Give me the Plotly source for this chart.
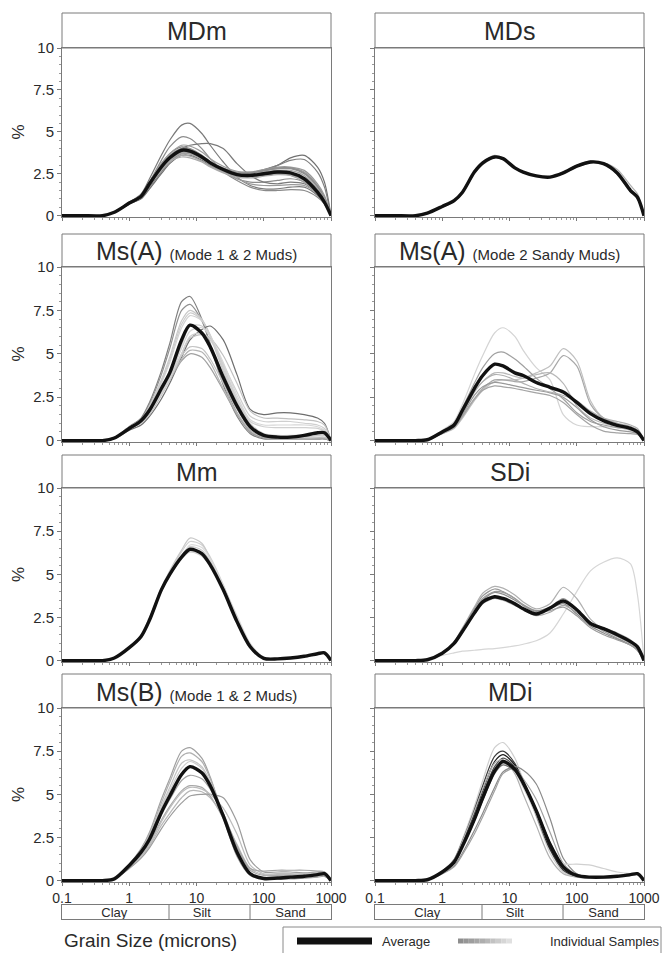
import plotly.graph_objects as go

# ---------------- DATA ----------------
GRAIN = [0.1, 0.2, 0.4, 0.6, 1, 1.5, 2, 3, 4, 6, 8, 12, 16, 25, 40, 63, 100, 160, 250, 400, 630, 800, 1000]
XTICK_VALS = [0.1, 1, 10, 100, 1000]
XTICK_LABELS = ["0.1", "1", "10", "100", "1000"]
CLASS_NAMES = ["Clay", "Silt", "Sand"]
CLASS_BOUNDS = [3.9, 62.5]
CLASS_LABEL_POS = [0.6, 12, 250]

TITLES = ["MDm", "MDs", "Ms(A)", "Ms(A)", "Mm", "SDi", "Ms(B)", "MDi"]
SUBTITLES = ["", "", "(Mode 1 & 2 Muds)", "(Mode 2 Sandy Muds)", "", "", "(Mode 1 & 2 Muds)", ""]

MDM_AVG = [0, 0, 0, 0.2, 0.75, 1.15, 1.9, 2.9, 3.45, 3.9, 3.85, 3.5, 3.15, 2.75, 2.45, 2.4, 2.5, 2.6, 2.55, 2.2, 1.4, 0.8, 0]
MDM_SAMPLES = [
    [0, 0, 0, 0.2, 0.8, 1.3, 2.2, 3.6, 4.5, 5.4, 5.5, 4.9, 4.2, 3.2, 2.3, 1.8, 1.6, 1.6, 1.7, 1.7, 1.2, 0.7, 0],
    [0, 0, 0, 0.2, 0.8, 1.2, 2.0, 3.3, 4.1, 4.7, 4.6, 4.0, 3.4, 2.7, 2.2, 2.0, 2.0, 2.1, 2.2, 2.0, 1.3, 0.8, 0],
    [0, 0, 0, 0.2, 0.7, 1.1, 1.8, 2.8, 3.4, 4.0, 4.2, 4.3, 4.3, 4.0, 3.1, 2.4, 2.0, 1.9, 2.0, 1.9, 1.3, 0.8, 0],
    [0, 0, 0, 0.2, 0.7, 1.0, 1.6, 2.5, 3.1, 3.6, 3.6, 3.3, 3.0, 2.6, 2.4, 2.45, 2.7, 3.0, 3.45, 3.6, 2.9, 2.0, 0],
    [0, 0, 0, 0.2, 0.7, 1.05, 1.7, 2.6, 3.2, 3.7, 3.7, 3.4, 3.05, 2.7, 2.5, 2.5, 2.75, 3.0, 3.3, 3.35, 2.6, 1.7, 0],
    [0, 0, 0, 0.2, 0.8, 1.2, 2.0, 3.1, 3.7, 4.1, 4.0, 3.6, 3.2, 2.6, 2.1, 1.7, 1.5, 1.5, 1.55, 1.5, 1.1, 0.7, 0],
    [0, 0, 0, 0.2, 0.75, 1.15, 1.9, 3.0, 3.6, 4.0, 3.9, 3.5, 3.1, 2.6, 2.2, 1.9, 1.8, 1.8, 1.85, 1.8, 1.3, 0.8, 0],
    [0, 0, 0, 0.2, 0.75, 1.2, 2.0, 3.1, 3.7, 4.2, 4.15, 3.8, 3.4, 2.95, 2.65, 2.6, 2.7, 2.8, 2.85, 2.6, 1.8, 1.1, 0],
    [0, 0, 0, 0.2, 0.7, 1.1, 1.8, 2.7, 3.2, 3.6, 3.55, 3.25, 2.95, 2.6, 2.35, 2.3, 2.4, 2.5, 2.45, 2.1, 1.35, 0.8, 0],
    [0, 0, 0, 0.2, 0.75, 1.15, 1.9, 2.85, 3.4, 3.8, 3.75, 3.45, 3.1, 2.7, 2.5, 2.5, 2.65, 2.8, 2.8, 2.5, 1.7, 1.0, 0],
    [0, 0, 0, 0.2, 0.7, 1.1, 1.85, 2.8, 3.3, 3.7, 3.7, 3.4, 3.05, 2.65, 2.4, 2.35, 2.45, 2.5, 2.4, 2.0, 1.3, 0.8, 0],
    [0, 0, 0, 0.2, 0.8, 1.2, 1.95, 3.0, 3.55, 4.0, 3.95, 3.6, 3.25, 2.85, 2.6, 2.6, 2.75, 2.9, 2.9, 2.7, 1.9, 1.2, 0],
    [0, 0, 0, 0.2, 0.7, 1.1, 1.8, 2.75, 3.25, 3.5, 3.45, 3.2, 2.9, 2.55, 2.3, 2.25, 2.35, 2.45, 2.4, 2.1, 1.35, 0.8, 0],
    [0, 0, 0, 0.2, 0.75, 1.15, 1.9, 2.95, 3.5, 3.95, 3.9, 3.55, 3.2, 2.8, 2.55, 2.55, 2.7, 2.85, 2.85, 2.55, 1.75, 1.05, 0],
    [0, 0, 0, 0.2, 0.72, 1.12, 1.85, 2.8, 3.35, 3.75, 3.7, 3.4, 3.05, 2.7, 2.45, 2.45, 2.6, 2.7, 2.7, 2.4, 1.6, 1.0, 0],
]
MDM_COLORS = ["#7a7a7a", "#8c8c8c", "#7a7a7a", "#707070", "#808080", "#8a8a8a", "#9a9a9a",
              "#9e9e9e", "#a8a8a8", "#929292", "#a0a0a0", "#999999", "#aaaaaa", "#8e8e8e", "#a4a4a4"]

MDS_AVG = [0, 0, 0, 0.15, 0.55, 0.9, 1.4, 2.6, 3.15, 3.5, 3.4, 2.85, 2.6, 2.37, 2.3, 2.55, 2.95, 3.2, 3.1, 2.55, 1.5, 1.1, 0]
MDS_SAMPLES = [
    [0, 0, 0, 0.15, 0.55, 0.9, 1.45, 2.65, 3.2, 3.6, 3.45, 2.9, 2.6, 2.35, 2.3, 2.5, 2.9, 3.15, 3.15, 2.75, 1.8, 1.3, 0],
    [0, 0, 0, 0.15, 0.5, 0.85, 1.35, 2.5, 3.05, 3.45, 3.35, 2.85, 2.62, 2.4, 2.32, 2.6, 3.0, 3.25, 3.1, 2.45, 1.4, 1.0, 0],
]
MDS_COLORS = ["#b0b0b0", "#999999"]

MSA12_AVG = [0, 0, 0, 0.15, 0.7, 1.15, 1.75, 3.0, 3.9, 5.8, 6.65, 6.2, 5.4, 3.65, 2.0, 0.8, 0.3, 0.2, 0.2, 0.3, 0.45, 0.45, 0]
MSA12_SAMPLES = [
    [0, 0, 0, 0.15, 0.8, 1.3, 2.2, 4.0, 5.6, 8.0, 8.3, 7.0, 5.5, 3.2, 1.4, 0.4, 0.1, 0.1, 0.1, 0.1, 0.1, 0.1, 0],
    [0, 0, 0, 0.15, 0.8, 1.25, 2.1, 3.8, 5.3, 7.5, 7.85, 6.9, 5.6, 3.4, 1.6, 0.5, 0.15, 0.1, 0.1, 0.1, 0.1, 0.1, 0],
    [0, 0, 0, 0.15, 0.8, 1.2, 2.0, 3.5, 4.8, 6.9, 7.5, 7.0, 6.0, 4.0, 2.1, 0.8, 0.3, 0.2, 0.2, 0.2, 0.3, 0.3, 0],
    [0, 0, 0, 0.15, 0.75, 1.15, 1.9, 3.3, 4.5, 6.5, 7.2, 6.9, 6.1, 4.3, 2.4, 1.0, 0.4, 0.3, 0.3, 0.35, 0.4, 0.4, 0],
    [0, 0, 0, 0.15, 0.78, 1.18, 1.95, 3.4, 4.65, 6.7, 7.35, 6.95, 6.05, 4.15, 2.25, 0.9, 0.35, 0.25, 0.25, 0.3, 0.35, 0.35, 0],
    [0, 0, 0, 0.1, 0.6, 0.9, 1.4, 2.4, 3.3, 4.8, 5.8, 6.4, 6.6, 5.8, 3.8, 1.8, 1.5, 1.6, 1.6, 1.5, 1.3, 1.0, 0],
    [0, 0, 0, 0.1, 0.65, 1.0, 1.5, 2.6, 3.5, 5.0, 5.9, 6.1, 5.9, 4.9, 3.3, 1.7, 1.3, 1.3, 1.25, 1.2, 1.1, 0.9, 0],
    [0, 0, 0, 0.15, 0.75, 1.1, 1.7, 2.8, 3.5, 4.6, 5.0, 4.8, 4.2, 2.9, 1.5, 0.5, 0.15, 0.1, 0.1, 0.1, 0.1, 0.1, 0],
    [0, 0, 0, 0.15, 0.75, 1.15, 1.75, 2.9, 3.7, 4.9, 5.4, 5.3, 4.7, 3.3, 1.8, 0.7, 0.3, 0.2, 0.2, 0.2, 0.2, 0.2, 0],
    [0, 0, 0, 0.15, 0.7, 1.1, 1.7, 2.8, 3.6, 4.7, 5.2, 5.1, 4.5, 3.0, 1.6, 0.6, 0.2, 0.1, 0.1, 0.1, 0.15, 0.15, 0],
    [0, 0, 0, 0.1, 0.7, 1.05, 1.6, 2.7, 3.5, 5.0, 6.0, 6.2, 5.8, 4.4, 2.8, 1.4, 1.1, 1.1, 1.1, 1.0, 0.9, 0.7, 0],
    [0, 0, 0, 0.1, 0.7, 1.0, 1.6, 2.7, 3.6, 5.3, 6.3, 6.5, 6.0, 4.5, 2.6, 1.2, 0.9, 0.9, 0.9, 0.9, 0.8, 0.6, 0],
    [0, 0, 0, 0.12, 0.72, 1.05, 1.65, 2.8, 3.7, 5.5, 6.6, 6.6, 6.0, 4.3, 2.4, 1.1, 0.8, 0.75, 0.75, 0.75, 0.7, 0.55, 0],
]
MSA12_COLORS = ["#808080", "#909090", "#c8c8c8", "#d2d2d2", "#cccccc", "#6e6e6e", "#c0c0c0",
                "#a0a0a0", "#c4c4c4", "#b4b4b4", "#cfcfcf", "#d6d6d6", "#d0d0d0"]

MSA2_AVG = [0, 0, 0, 0.05, 0.5, 0.9, 1.75, 3.0, 3.75, 4.4, 4.3, 3.9, 3.75, 3.35, 3.07, 2.8, 2.2, 1.55, 1.15, 0.88, 0.7, 0.5, 0]
MSA2_SAMPLES = [
    [0, 0, 0, 0.05, 0.6, 1.1, 2.1, 3.8, 4.9, 6.2, 6.5, 6.0, 5.2, 4.2, 3.5, 1.5, 0.9, 0.8, 0.8, 0.75, 0.6, 0.45, 0],
    [0, 0, 0, 0.05, 0.4, 0.7, 1.3, 2.3, 2.9, 3.4, 3.5, 3.5, 3.6, 3.9, 4.3, 5.3, 4.6, 2.3, 1.3, 1.0, 0.8, 0.6, 0],
    [0, 0, 0, 0.05, 0.4, 0.75, 1.4, 2.4, 3.0, 3.5, 3.5, 3.4, 3.4, 3.6, 3.9, 4.9, 4.3, 2.1, 1.3, 1.0, 0.8, 0.6, 0],
    [0, 0, 0, 0.05, 0.55, 1.0, 1.9, 3.3, 4.2, 5.0, 5.1, 4.7, 4.3, 3.6, 3.0, 2.4, 1.6, 1.1, 0.9, 0.75, 0.65, 0.5, 0],
    [0, 0, 0, 0.05, 0.5, 0.85, 1.6, 2.8, 3.4, 3.9, 3.9, 3.7, 3.6, 3.8, 3.9, 3.3, 2.0, 1.3, 1.0, 0.8, 0.6, 0.5, 0],
    [0, 0, 0, 0.05, 0.45, 0.8, 1.4, 2.4, 2.9, 3.15, 3.1, 3.0, 2.9, 2.75, 2.6, 2.2, 1.5, 0.9, 0.55, 0.45, 0.4, 0.35, 0],
    [0, 0, 0, 0.05, 0.45, 0.8, 1.5, 2.6, 3.1, 3.35, 3.3, 3.15, 3.05, 2.9, 2.75, 2.5, 1.9, 1.2, 0.8, 0.6, 0.5, 0.4, 0],
    [0, 0, 0, 0.05, 0.5, 0.9, 1.6, 2.8, 3.4, 3.8, 3.75, 3.5, 3.3, 3.0, 2.8, 2.6, 2.3, 1.7, 1.3, 1.1, 0.9, 0.7, 0],
]
MSA2_COLORS = ["#d4d4d4", "#c0c0c0", "#a8a8a8", "#a0a0a0", "#b8b8b8", "#a4a4a4", "#9a9a9a", "#b0b0b0"]

MM_AVG = [0, 0, 0, 0.15, 0.75, 1.4, 2.35, 4.1, 5.0, 6.0, 6.45, 6.2, 5.55, 4.1, 2.26, 0.8, 0.13, 0.1, 0.15, 0.25, 0.4, 0.45, 0]
MM_SAMPLES = [
    [0, 0, 0, 0.15, 0.7, 1.35, 2.3, 4.1, 5.1, 6.3, 6.9, 6.7, 6.0, 4.4, 2.4, 0.8, 0.15, 0.1, 0.15, 0.2, 0.35, 0.4, 0],
    [0, 0, 0, 0.15, 0.75, 1.4, 2.4, 4.2, 5.2, 6.4, 7.1, 6.8, 5.9, 4.2, 2.2, 0.7, 0.1, 0.1, 0.15, 0.25, 0.4, 0.45, 0],
    [0, 0, 0, 0.15, 0.8, 1.5, 2.5, 4.2, 5.1, 6.0, 6.3, 6.05, 5.5, 4.3, 2.6, 1.0, 0.2, 0.1, 0.15, 0.25, 0.4, 0.45, 0],
    [0, 0, 0, 0.15, 0.7, 1.3, 2.25, 4.0, 4.9, 5.9, 6.3, 6.1, 5.6, 4.3, 2.5, 0.9, 0.2, 0.1, 0.15, 0.25, 0.4, 0.45, 0],
    [0, 0, 0, 0.15, 0.75, 1.45, 2.45, 4.15, 5.05, 6.1, 6.6, 6.4, 5.75, 4.25, 2.35, 0.85, 0.15, 0.1, 0.15, 0.25, 0.4, 0.45, 0],
    [0, 0, 0, 0.15, 0.72, 1.38, 2.35, 4.05, 5.0, 6.05, 6.7, 6.55, 5.9, 4.35, 2.45, 0.9, 0.18, 0.1, 0.15, 0.25, 0.4, 0.45, 0],
]
MM_COLORS = ["#d0d0d0", "#c8c8c8", "#d8d8d8", "#d4d4d4", "#cccccc", "#dadada"]

SDI_AVG = [0, 0, 0, 0.05, 0.43, 1.0, 1.7, 2.75, 3.4, 3.7, 3.6, 3.3, 3.0, 2.7, 3.05, 3.45, 2.95, 2.15, 1.85, 1.5, 1.1, 0.8, 0]
SDI_SAMPLES = [
    [0, 0, 0, 0.05, 0.3, 0.45, 0.55, 0.6, 0.65, 0.7, 0.75, 0.85, 0.95, 1.15, 1.6, 2.7, 4.0, 5.2, 5.7, 5.95, 5.6, 3.8, 0],
    [0, 0, 0, 0.05, 0.45, 1.1, 1.9, 3.1, 3.9, 4.3, 4.2, 3.8, 3.4, 3.0, 3.3, 4.25, 3.6, 2.4, 1.8, 1.4, 1.0, 0.7, 0],
    [0, 0, 0, 0.05, 0.45, 1.05, 1.85, 3.0, 3.75, 4.15, 4.0, 3.6, 3.25, 2.9, 3.1, 3.6, 3.0, 2.2, 1.7, 1.3, 0.9, 0.6, 0],
    [0, 0, 0, 0.05, 0.42, 1.0, 1.75, 2.85, 3.5, 3.95, 3.85, 3.5, 3.2, 2.85, 3.0, 3.3, 2.7, 2.0, 1.6, 1.25, 0.9, 0.6, 0],
    [0, 0, 0, 0.05, 0.4, 0.95, 1.65, 2.7, 3.3, 3.6, 3.5, 3.2, 2.95, 2.6, 2.8, 3.2, 2.8, 2.2, 1.9, 1.6, 1.2, 0.8, 0],
    [0, 0, 0, 0.05, 0.45, 1.05, 1.8, 2.9, 3.6, 4.0, 3.95, 3.6, 3.2, 2.8, 2.9, 3.1, 2.6, 1.9, 1.5, 1.2, 0.9, 0.6, 0],
]
SDI_COLORS = ["#d6d6d6", "#b0b0b0", "#999999", "#8c8c8c", "#a8a8a8", "#9c9c9c"]

MSB_AVG = [0, 0, 0, 0.1, 0.88, 1.65, 2.4, 3.95, 4.9, 6.15, 6.6, 6.25, 5.5, 3.75, 1.65, 0.4, 0.12, 0.15, 0.2, 0.25, 0.35, 0.4, 0]
MSB_SAMPLES = [
    [0, 0, 0, 0.1, 0.95, 1.85, 2.8, 4.7, 5.9, 7.5, 7.7, 7.1, 6.0, 3.7, 1.4, 0.3, 0.1, 0.1, 0.1, 0.15, 0.2, 0.25, 0],
    [0, 0, 0, 0.1, 0.9, 1.8, 2.7, 4.5, 5.7, 7.2, 7.4, 6.9, 5.9, 3.8, 1.5, 0.35, 0.1, 0.1, 0.15, 0.2, 0.25, 0.3, 0],
    [0, 0, 0, 0.1, 0.9, 1.75, 2.6, 4.3, 5.4, 6.8, 7.0, 6.6, 5.7, 3.8, 1.6, 0.4, 0.15, 0.15, 0.2, 0.2, 0.3, 0.35, 0],
    [0, 0, 0, 0.1, 0.8, 1.5, 2.2, 3.5, 4.3, 5.2, 5.5, 5.4, 4.9, 3.6, 1.9, 0.6, 0.3, 0.3, 0.3, 0.3, 0.35, 0.4, 0],
    [0, 0, 0, 0.1, 0.75, 1.4, 2.0, 3.2, 3.9, 4.8, 5.2, 5.15, 4.8, 3.7, 2.1, 0.7, 0.35, 0.35, 0.35, 0.35, 0.4, 0.45, 0],
    [0, 0, 0, 0.1, 0.7, 1.3, 1.9, 3.0, 3.7, 4.5, 4.9, 5.0, 5.0, 4.8, 3.4, 1.2, 0.5, 0.5, 0.5, 0.45, 0.5, 0.5, 0],
    [0, 0, 0, 0.1, 0.8, 1.45, 2.1, 3.4, 4.2, 5.1, 5.4, 5.3, 5.0, 4.2, 2.7, 0.9, 0.4, 0.4, 0.4, 0.4, 0.45, 0.5, 0],
    [0, 0, 0, 0.1, 0.85, 1.6, 2.3, 3.8, 4.7, 5.8, 6.1, 5.9, 5.3, 3.9, 2.0, 0.7, 0.55, 0.6, 0.6, 0.6, 0.55, 0.5, 0],
    [0, 0, 0, 0.1, 0.9, 1.7, 2.5, 4.2, 5.2, 6.5, 6.9, 6.5, 5.6, 3.6, 1.5, 0.35, 0.12, 0.12, 0.15, 0.2, 0.3, 0.35, 0],
]
MSB_COLORS = ["#a0a0a0", "#b0b0b0", "#c4c4c4", "#a8a8a8", "#b8b8b8", "#9c9c9c", "#bcbcbc", "#a4a4a4", "#cccccc"]

MDI_AVG = [0, 0, 0, 0.05, 0.5, 1.07, 2.0, 3.55, 4.8, 6.35, 6.9, 6.45, 5.65, 4.05, 2.1, 0.8, 0.3, 0.2, 0.2, 0.25, 0.35, 0.4, 0]
MDI_SAMPLES = [
    [0, 0, 0, 0.05, 0.55, 1.25, 2.4, 4.3, 5.8, 7.7, 8.0, 7.1, 5.8, 3.7, 1.6, 0.5, 0.2, 0.15, 0.15, 0.2, 0.3, 0.35, 0],
    [0, 0, 0, 0.05, 0.55, 1.2, 2.3, 4.1, 5.5, 7.2, 7.5, 6.8, 5.7, 3.8, 1.8, 0.6, 0.25, 0.2, 0.2, 0.25, 0.35, 0.4, 0],
    [0, 0, 0, 0.05, 0.5, 1.15, 2.2, 3.9, 5.2, 6.9, 7.3, 6.7, 5.7, 3.9, 1.9, 0.7, 0.3, 0.2, 0.2, 0.25, 0.35, 0.4, 0],
    [0, 0, 0, 0.05, 0.5, 1.1, 2.1, 3.7, 5.0, 6.6, 7.1, 6.6, 5.8, 4.1, 2.2, 0.8, 0.3, 0.2, 0.2, 0.25, 0.35, 0.4, 0],
    [0, 0, 0, 0.05, 0.4, 0.85, 1.6, 2.9, 3.9, 5.4, 6.3, 6.6, 6.4, 5.6, 3.6, 1.3, 0.4, 0.2, 0.2, 0.25, 0.35, 0.4, 0],
    [0, 0, 0, 0.05, 0.4, 0.8, 1.5, 2.7, 3.7, 5.2, 6.2, 6.5, 5.9, 4.7, 2.8, 1.0, 0.35, 0.2, 0.2, 0.25, 0.35, 0.4, 0],
    [0, 0, 0, 0.05, 0.55, 1.2, 2.3, 4.0, 5.3, 6.8, 7.0, 6.2, 5.0, 3.2, 1.3, 0.4, 0.2, 0.15, 0.15, 0.2, 0.3, 0.35, 0],
    [0, 0, 0, 0.05, 0.5, 1.1, 2.0, 3.6, 4.8, 6.3, 6.8, 6.3, 5.4, 3.8, 2.0, 1.0, 0.95, 0.9, 0.7, 0.5, 0.4, 0.4, 0],
    [0, 0, 0, 0.05, 0.48, 1.05, 1.95, 3.45, 4.65, 6.2, 6.7, 6.35, 5.6, 4.1, 2.2, 0.85, 0.3, 0.2, 0.2, 0.25, 0.35, 0.4, 0],
]
MDI_COLORS = ["#cfcfcf", "#3a3a3a", "#1a1a1a", "#505050", "#8a8a8a", "#a0a0a0", "#b0b0b0", "#d0d0d0", "#707070"]

PANELS = [
    (MDM_AVG, MDM_SAMPLES, MDM_COLORS),
    (MDS_AVG, MDS_SAMPLES, MDS_COLORS),
    (MSA12_AVG, MSA12_SAMPLES, MSA12_COLORS),
    (MSA2_AVG, MSA2_SAMPLES, MSA2_COLORS),
    (MM_AVG, MM_SAMPLES, MM_COLORS),
    (SDI_AVG, SDI_SAMPLES, SDI_COLORS),
    (MSB_AVG, MSB_SAMPLES, MSB_COLORS),
    (MDI_AVG, MDI_SAMPLES, MDI_COLORS),
]

# ---------------- LAYOUT ----------------
W, H = 663, 953
FONT = "Liberation Sans, Arial, sans-serif"
TXT = "#2a2a2a"
AXC = "#7a7a7a"
COLS = [(62, 331), (375, 644)]
ROWS = [(13, 48, 217), (234, 267, 442), (455, 488, 662), (674, 708, 882)]
STRIP = (905, 919)


def fx(p):
    return p / W


def fy(p):
    return 1 - p / H


fig = go.Figure()
layout = {}
shapes = []
annotations = []

for i, (avg, samples, colors) in enumerate(PANELS):
    r, c = divmod(i, 2)
    n = i + 1
    sfx = "" if n == 1 else str(n)
    xa, ya = "x" + sfx, "y" + sfx
    for vals, col in zip(samples, colors):
        fig.add_trace(go.Scatter(x=GRAIN, y=vals, mode="lines", xaxis=xa, yaxis=ya,
                                 line=dict(color=col, width=1.2, shape="spline", smoothing=0.8),
                                 hoverinfo="skip", showlegend=False))
    fig.add_trace(go.Scatter(x=GRAIN, y=avg, mode="lines", xaxis=xa, yaxis=ya,
                             line=dict(color="#111111", width=3.4, shape="spline", smoothing=0.8),
                             showlegend=False))
    x0, x1 = COLS[c]
    ttop, ptop, pbot = ROWS[r]
    layout["xaxis" + sfx] = dict(
        domain=[fx(x0), fx(x1)], anchor=ya, type="log", range=[-1, 3], automargin=False,
        showline=True, mirror=True, linecolor=AXC, linewidth=1,
        ticks="outside", ticklen=3, tickcolor=AXC,
        tickmode="array", tickvals=XTICK_VALS, ticktext=XTICK_LABELS,
        showticklabels=(r == 3), tickfont=dict(family=FONT, size=14, color=TXT),
        showgrid=False, zeroline=False,
        minor=dict(ticks="outside", ticklen=2, dtick="D1", tickcolor="#999999", showgrid=False),
    )
    layout["yaxis" + sfx] = dict(
        domain=[fy(pbot), fy(ptop)], anchor=xa, range=[-0.08, 10], automargin=False,
        showline=True, mirror=True, linecolor=AXC, linewidth=1,
        ticks="outside", ticklen=4, tickcolor=AXC, tickmode="linear", tick0=0, dtick=2.5,
        showticklabels=(c == 0), tickfont=dict(family=FONT, size=15, color=TXT),
        showgrid=False, zeroline=False,
        minor=dict(ticks="outside", ticklen=2, dtick=0.5, tickcolor="#999999", showgrid=False),
    )
    # title box
    shapes.append(dict(type="rect", xref="paper", yref="paper", x0=fx(x0), x1=fx(x1),
                       y0=fy(ptop), y1=fy(ttop), line=dict(color=AXC, width=1)))
    text = TITLES[i]
    if SUBTITLES[i]:
        text += " <span style='font-size:15px'>" + SUBTITLES[i] + "</span>"
    annotations.append(dict(xref="paper", yref="paper", x=fx((x0 + x1) / 2), y=fy((ttop + ptop) / 2 + 1),
                            text=text, showarrow=False, xanchor="center", yanchor="middle",
                            font=dict(family=FONT, size=25, color=TXT)))
    if c == 0:
        annotations.append(dict(xref="paper", yref="paper", x=fx(18), y=fy((ptop + pbot) / 2),
                                text="%", textangle=-90, showarrow=False, xanchor="center",
                                yanchor="middle", font=dict(family=FONT, size=17, color=TXT)))

# grain-class strips
for k, c in enumerate([0, 1]):
    n = 9 + k
    xa, ya = "x%d" % n, "y%d" % n
    x0, x1 = COLS[c]
    layout["xaxis%d" % n] = dict(domain=[fx(x0), fx(x1)], anchor=ya, type="log", range=[-1, 3],
                                 automargin=False,
                                 showline=True, mirror=True, linecolor=AXC, linewidth=1,
                                 ticks="", showticklabels=False, showgrid=False, zeroline=False)
    layout["yaxis%d" % n] = dict(domain=[fy(STRIP[1]), fy(STRIP[0])], anchor=xa, range=[0, 1],
                                 automargin=False,
                                 showline=True, mirror=True, linecolor=AXC, linewidth=1,
                                 ticks="", showticklabels=False, showgrid=False, zeroline=False)
    for b in CLASS_BOUNDS:
        fig.add_trace(go.Scatter(x=[b, b], y=[0, 1], mode="lines", xaxis=xa, yaxis=ya,
                                 line=dict(color=AXC, width=1), hoverinfo="skip", showlegend=False))
    fig.add_trace(go.Scatter(x=CLASS_LABEL_POS, y=[0.4] * 3, mode="text", text=CLASS_NAMES,
                             xaxis=xa, yaxis=ya, textfont=dict(family=FONT, size=13, color=TXT),
                             hoverinfo="skip", showlegend=False))

# x axis label
annotations.append(dict(xref="paper", yref="paper", x=fx(62), y=fy(940), text="Grain Size (microns)",
                        showarrow=False, xanchor="left", yanchor="middle",
                        font=dict(family=FONT, size=19, color=TXT)))

# legend box
shapes.append(dict(type="rect", xref="paper", yref="paper", x0=fx(283), x1=fx(661),
                   y0=-0.01, y1=fy(927), line=dict(color="#8a8a8a", width=1)))
shapes.append(dict(type="line", xref="paper", yref="paper", x0=fx(297), x1=fx(372),
                   y0=fy(941), y1=fy(941), line=dict(color="#111111", width=7)))
annotations.append(dict(xref="paper", yref="paper", x=fx(380), y=fy(941), text="Average",
                        showarrow=False, xanchor="left", yanchor="middle",
                        font=dict(family=FONT, size=13, color=TXT)))
grad = ["#8e8e8e", "#969696", "#9e9e9e", "#a6a6a6", "#aeaeae", "#b8b8b8", "#c2c2c2", "#cccccc", "#d6d6d6", "#e0e0e0"]
seg = (512 - 458) / len(grad)
for j, gcol in enumerate(grad):
    shapes.append(dict(type="line", xref="paper", yref="paper", x0=fx(458 + j * seg), x1=fx(458 + (j + 1) * seg),
                       y0=fy(941), y1=fy(941), line=dict(color=gcol, width=5)))
annotations.append(dict(xref="paper", yref="paper", x=fx(548), y=fy(941), text="Individual Samples",
                        showarrow=False, xanchor="left", yanchor="middle",
                        font=dict(family=FONT, size=13, color=TXT)))

fig.update_layout(
    width=W, height=H, margin=dict(l=0, r=0, t=0, b=0, autoexpand=False),
    paper_bgcolor="white", plot_bgcolor="white", showlegend=False,
    shapes=shapes, annotations=annotations, font=dict(family=FONT, color=TXT),
    **layout
)

fig.write_html("out.html", config={"displayModeBar": False},
               post_script="document.body.style.margin='0';document.body.style.overflow='hidden';")
